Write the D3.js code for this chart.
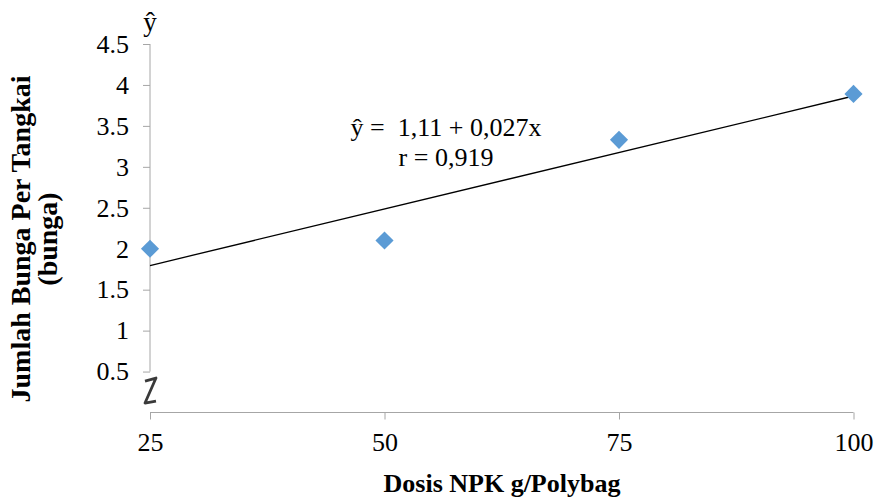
<!DOCTYPE html>
<html>
<head>
<meta charset="utf-8">
<script src="https://cdn.jsdelivr.net/npm/d3@7"></script>
<style>
  body { margin: 0; background: #fff; }
  text { font-family: "Liberation Serif", "Times New Roman", serif; fill: #000; }
</style>
</head>
<body>
<div id="chart"></div>
<script>
// dosis NPK vs jumlah bunga per tangkai
var dosis = [25, 50, 75, 100];
var bunga = [2.0, 2.1, 3.33, 3.89];
var xTicks = [25, 50, 75, 100];
var yTicks = [0.5, 1, 1.5, 2, 2.5, 3, 3.5, 4, 4.5];
var yTickLabels = ["0.5", "1", "1.5", "2", "2.5", "3", "3.5", "4", "4.5"];
var equation = ["\u0177 =  1,11 + 0,027x", "r = 0,919"];

var width = 877, height = 497;

var svg = d3.select("#chart")
  .append("svg")
  .attr("width", width)
  .attr("height", height);

var xScale = d3.scaleLinear()
  .domain([25, 100])
  .range([150, 853.5]);

var yScale = d3.scaleLinear()
  .domain([0, 4.5])
  .range([412.5, 44]);

var axisColor = "#a6a6a6";

// y axis (stops at 0.5, then the break)
var yAxis = d3.axisLeft(yScale)
  .tickValues(yTicks)
  .tickSize(7)
  .tickPadding(14)
  .tickFormat(function(d, i) { return yTickLabels[i]; });

var gy = svg.append("g")
  .attr("transform", "translate(" + xScale(25) + ",0)")
  .call(yAxis);
gy.select(".domain").remove();
gy.append("line")
  .attr("y1", yScale(4.5))
  .attr("y2", yScale(0.5))
  .attr("stroke", axisColor);
gy.selectAll(".tick line").attr("stroke", axisColor);
gy.selectAll(".tick text")
  .style("font-size", "26px")
  .style("font-family", "Liberation Serif")
  .attr("fill", "#000");

// x axis
var xAxis = d3.axisBottom(xScale)
  .tickValues(xTicks)
  .tickSize(7)
  .tickPadding(13)
  .tickFormat(d3.format("d"));

var gx = svg.append("g")
  .attr("transform", "translate(0," + yScale(0) + ")")
  .call(xAxis);
gx.select(".domain")
  .attr("d", "M" + xScale(25) + ",0H" + xScale(100))
  .attr("stroke", axisColor);
gx.selectAll(".tick line").attr("stroke", axisColor);
gx.selectAll(".tick text")
  .style("font-size", "26px")
  .style("font-family", "Liberation Serif")
  .attr("fill", "#000");

// axis break mark
var bx = xScale(25), by = (yScale(0.5) + yScale(0)) / 2;
svg.append("path")
  .attr("d", "M" + (bx - 5) + "," + (by - 11) +
    " L" + (bx + 6) + "," + (by - 14) +
    " L" + (bx - 5) + "," + (by + 11) +
    " L" + (bx + 6) + "," + (by + 9))
  .attr("fill", "none")
  .attr("stroke", "#3a3a3a")
  .attr("stroke-width", 2.8)
  .attr("stroke-linejoin", "round");

// trend line (least squares from the data)
var mx = d3.mean(dosis), my = d3.mean(bunga);
var sxy = d3.sum(dosis, function(d, i) { return (d - mx) * (bunga[i] - my); });
var sxx = d3.sum(dosis, function(d) { return (d - mx) * (d - mx); });
var slope = sxy / sxx, intercept = my - slope * mx;

svg.append("line")
  .attr("x1", xScale(25))
  .attr("y1", yScale(intercept + slope * 25))
  .attr("x2", xScale(100))
  .attr("y2", yScale(intercept + slope * 100))
  .attr("stroke", "#000")
  .attr("stroke-width", 1.3);

// points
svg.selectAll(".pt")
  .data(dosis)
  .enter()
  .append("path")
  .attr("class", "pt")
  .attr("d", d3.symbol().type(d3.symbolSquare).size(165))
  .attr("transform", function(d, i) {
    return "translate(" + xScale(d) + "," + yScale(bunga[i]) + ") rotate(45)";
  })
  .attr("fill", "#5b9bd5");

// equation
svg.selectAll(".eq")
  .data(equation)
  .enter()
  .append("text")
  .attr("class", "eq")
  .attr("x", 446)
  .attr("y", function(d, i) { return 136 + i * 30; })
  .attr("text-anchor", "middle")
  .style("font-size", "26px")
  .style("white-space", "pre")
  .text(function(d) { return d; });

// y hat label at top of axis
svg.append("text")
  .attr("x", xScale(25))
  .attr("y", 31)
  .attr("text-anchor", "middle")
  .style("font-size", "27px")
  .text("\u0177");

// axis titles
svg.append("text")
  .attr("x", 502)
  .attr("y", 492)
  .attr("text-anchor", "middle")
  .style("font-size", "26px")
  .style("font-weight", "bold")
  .text("Dosis NPK g/Polybag");

var yTitle = svg.append("text")
  .attr("transform", "translate(30,239) rotate(-90)")
  .attr("text-anchor", "middle")
  .style("font-size", "28px")
  .style("font-weight", "bold");
yTitle.append("tspan").attr("x", 0).attr("dy", 0).text("Jumlah Bunga Per Tangkai");
yTitle.append("tspan").attr("x", 0).attr("dy", 27).text("(bunga)");
</script>
</body>
</html>
